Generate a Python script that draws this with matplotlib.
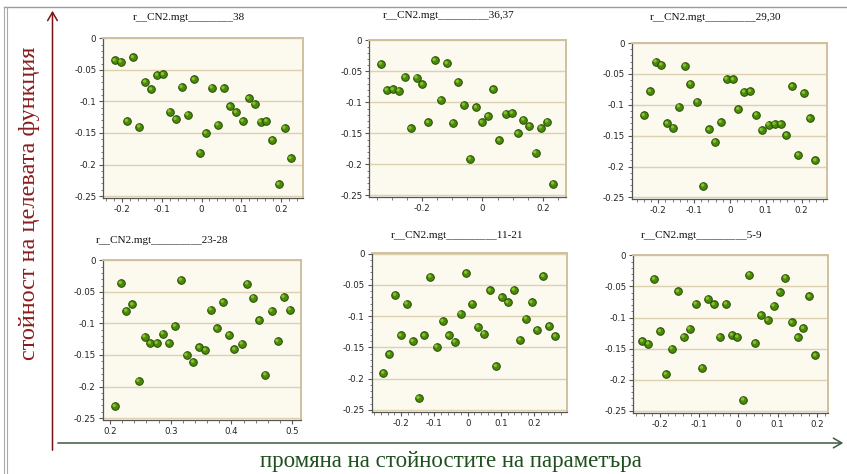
import matplotlib
matplotlib.use("Agg")
import matplotlib.pyplot as plt
from matplotlib.transforms import offset_copy
from matplotlib.ticker import MultipleLocator

plt.rcParams['axes.unicode_minus'] = False

# panel titles
titles = ['r__CN2.mgt________38', 'r__CN2.mgt_________36,37', 'r__CN2.mgt_________29,30',
          'r__CN2.mgt_________23-28', 'r__CN2.mgt_________11-21', 'r__CN2.mgt_________5-9']

# data
x_38 = [-0.219, -0.204, -0.173, -0.188, -0.157, -0.142, -0.127, -0.112, -0.097, -0.080,
        -0.065, -0.050, -0.035, -0.019, -0.004, 0.011, 0.026, 0.041, 0.056, 0.072,
        0.087, 0.104, 0.119, 0.134, 0.149, 0.164, 0.179, 0.195, 0.210, 0.225]
y_38 = [-0.035, -0.037, -0.030, -0.131, -0.140, -0.069, -0.081, -0.058, -0.057, -0.116,
        -0.128, -0.077, -0.121, -0.065, -0.181, -0.150, -0.078, -0.137, -0.079, -0.108,
        -0.117, -0.131, -0.095, -0.104, -0.132, -0.131, -0.161, -0.231, -0.142, -0.190]

x_3637 = [-0.336, -0.317, -0.297, -0.277, -0.257, -0.238, -0.218, -0.199, -0.180, -0.158,
          -0.138, -0.118, -0.098, -0.081, -0.061, -0.041, -0.021, -0.002, 0.018, 0.036,
          0.056, 0.078, 0.098, 0.117, 0.136, 0.156, 0.176, 0.194, 0.215, 0.235]
y_3637 = [-0.038, -0.080, -0.079, -0.081, -0.059, -0.142, -0.060, -0.071, -0.132, -0.032,
          -0.096, -0.037, -0.133, -0.067, -0.104, -0.191, -0.108, -0.132, -0.122, -0.079,
          -0.161, -0.118, -0.117, -0.150, -0.128, -0.138, -0.181, -0.141, -0.131, -0.231]

x_2930 = [-0.240, -0.223, -0.207, -0.191, -0.175, -0.158, -0.142, -0.125, -0.110, -0.091,
          -0.074, -0.058, -0.041, -0.025, -0.009, 0.009, 0.024, 0.040, 0.057, 0.074,
          0.089, 0.108, 0.125, 0.142, 0.158, 0.174, 0.191, 0.207, 0.223, 0.239]
y_2930 = [-0.117, -0.078, -0.030, -0.035, -0.130, -0.137, -0.103, -0.037, -0.066, -0.095,
          -0.231, -0.140, -0.160, -0.128, -0.058, -0.059, -0.107, -0.079, -0.078, -0.116,
          -0.141, -0.132, -0.131, -0.131, -0.149, -0.070, -0.181, -0.081, -0.122, -0.190]

x_2328 = [0.208, 0.218, 0.227, 0.237, 0.247, 0.257, 0.266, 0.277, 0.287, 0.297,
          0.307, 0.317, 0.326, 0.337, 0.347, 0.357, 0.366, 0.376, 0.386, 0.396,
          0.405, 0.417, 0.426, 0.436, 0.446, 0.456, 0.466, 0.476, 0.486, 0.496]
y_2328 = [-0.231, -0.036, -0.080, -0.070, -0.191, -0.121, -0.131, -0.131, -0.116, -0.131,
          -0.104, -0.031, -0.150, -0.161, -0.138, -0.142, -0.078, -0.108, -0.066, -0.118,
          -0.141, -0.132, -0.037, -0.059, -0.095, -0.181, -0.080, -0.128, -0.058, -0.078]

x_1121 = [-0.253, -0.235, -0.217, -0.201, -0.183, -0.165, -0.147, -0.130, -0.112, -0.093,
          -0.075, -0.057, -0.039, -0.021, -0.004, 0.014, 0.031, 0.049, 0.067, 0.085,
          0.102, 0.120, 0.139, 0.157, 0.175, 0.192, 0.209, 0.227, 0.245, 0.263]
y_1121 = [-0.191, -0.161, -0.066, -0.131, -0.080, -0.140, -0.231, -0.131, -0.037, -0.149,
          -0.108, -0.131, -0.141, -0.096, -0.031, -0.080, -0.117, -0.128, -0.059, -0.180,
          -0.070, -0.078, -0.058, -0.138, -0.104, -0.078, -0.122, -0.036, -0.116, -0.132]

x_59 = [-0.244, -0.229, -0.214, -0.199, -0.184, -0.169, -0.153, -0.139, -0.124, -0.108,
        -0.092, -0.077, -0.062, -0.047, -0.031, -0.016, -0.002, 0.013, 0.028, 0.043,
        0.058, 0.075, 0.090, 0.105, 0.120, 0.136, 0.151, 0.165, 0.181, 0.196]
y_59 = [-0.138, -0.142, -0.038, -0.122, -0.191, -0.150, -0.058, -0.131, -0.118, -0.078,
        -0.181, -0.070, -0.079, -0.131, -0.078, -0.128, -0.131, -0.232, -0.031, -0.141,
        -0.096, -0.104, -0.081, -0.059, -0.036, -0.108, -0.132, -0.117, -0.066, -0.161]

xs = [x_38, x_3637, x_2930, x_2328, x_1121, x_59]
ys = [y_38, y_3637, y_2930, y_2328, y_1121, y_59]

y_ticks = [0, -0.05, -0.1, -0.15, -0.2, -0.25]
y_labels = ['0', '-0.05', '-0.1', '-0.15', '-0.2', '-0.25']
x_ticks_a = [-0.2, -0.1, 0, 0.1, 0.2]
x_labels_a = ['-0.2', '-0.1', '0', '0.1', '0.2']
x_ticks_b = [-0.2, 0, 0.2]
x_labels_b = ['-0.2', '0', '0.2']
x_ticks_c = [0.2, 0.3, 0.4, 0.5]
x_labels_c = ['0.2', '0.3', '0.4', '0.5']

W, H = 847, 474
fig = plt.figure(figsize=(W / 100, H / 100), dpi=100)

# pixel boxes: left, top, right, bottom ; xlim ; title centre
boxes = [(103.3, 38, 303.3, 198), (369.3, 40, 566, 197.3), (631.7, 42.7, 827.3, 199.3),
         (102.7, 260, 300.7, 420), (371.7, 253.3, 567.3, 411.7), (633.3, 255, 828.3, 412.7)]
xlims = [(-0.248, 0.257), (-0.375, 0.277), (-0.274, 0.272),
         (0.188, 0.514), (-0.288, 0.299), (-0.267, 0.229)]
title_pos = [(189, 17), (449, 16), (716, 18), (162.5, 240), (456.7, 235), (702, 236)]
tick_sets = [(x_ticks_a, x_labels_a, 0.02), (x_ticks_b, x_labels_b, 0.05), (x_ticks_a, x_labels_a, 0.02),
             (x_ticks_c, x_labels_c, 0.02), (x_ticks_a, x_labels_a, 0.02), (x_ticks_a, x_labels_a, 0.02)]

for i in range(6):
    l, t, r, b = boxes[i]
    ax = fig.add_axes([l / W, 1 - b / H, (r - l) / W, (b - t) / H])
    ax.set_facecolor('#fcf9ee')
    ax.set_xlim(*xlims[i])
    ax.set_ylim(-0.253, 0.0005)
    ax.set_yticks(y_ticks, labels=y_labels)
    xt, xl, mn = tick_sets[i]
    ax.set_xticks(xt, labels=xl)
    ax.xaxis.set_minor_locator(MultipleLocator(mn))
    ax.yaxis.set_minor_locator(MultipleLocator(0.01))
    ax.tick_params(which='major', length=3, width=0.8, color='#555555', labelsize=6.2,
                   labelcolor='#222222', pad=2)
    ax.tick_params(which='minor', length=1.8, width=0.6, color='#666666')
    ax.grid(axis='y', color='#dcd2b2', linewidth=1.0)
    ax.set_axisbelow(True)
    for s in ['left', 'bottom']:
        ax.spines[s].set_color('#555555')
        ax.spines[s].set_linewidth(0.9)
    for s in ['top', 'right']:
        ax.spines[s].set_color('#cfc19e')
        ax.spines[s].set_linewidth(1.4)

    ax.scatter(xs[i], ys[i], s=30, facecolor='#4b8a0c', edgecolor='#224a00',
               linewidth=0.7, zorder=3)
    hl = offset_copy(ax.transData, fig=fig, x=-0.5, y=0.5, units='points')
    ax.scatter(xs[i], ys[i], s=6, facecolor='#86c424', edgecolor='none',
               transform=hl, zorder=4)

    tx, ty = title_pos[i]
    fig.text(tx / W, 1 - ty / H, titles[i], ha='center', va='center',
             family='Liberation Serif', fontsize=8, color='#111111')

# frame lines of the page
fig.add_artist(plt.Line2D([4 / W, 1], [1 - 6.7 / H, 1 - 6.7 / H], color='#9a9a9a', linewidth=1))
fig.add_artist(plt.Line2D([3.5 / W, 3.5 / W], [0, 1 - 6.7 / H], color='#aaaaaa', linewidth=0.8))
fig.add_artist(plt.Line2D([6.5 / W, 6.5 / W], [0, 1 - 6.7 / H], color='#aaaaaa', linewidth=0.8))

# axis arrows
fig.add_artist(matplotlib.patches.FancyArrowPatch((52.5 / W, 1 - 453 / H), (52.5 / W, 1 - 8 / H),
               transform=fig.transFigure, arrowstyle='->,head_length=6,head_width=3.5',
               color='#7a1414', linewidth=1.1))
fig.add_artist(matplotlib.patches.FancyArrowPatch((55 / W, 1 - 443 / H), (846 / W, 1 - 443 / H),
               transform=fig.transFigure, arrowstyle='->,head_length=6,head_width=3.5',
               color='#3e5a3e', linewidth=1.1))

fig.text(30 / W, 1 - 203 / H, 'стойност на целевата функция', rotation=90, ha='center', va='center',
         family='Liberation Serif', fontsize=17.5, color='#8b1d1d')
fig.text(451 / W, 1 - 461 / H, 'промяна на стойностите на параметъра', ha='center', va='center',
         family='Liberation Serif', fontsize=16.5, color='#1f4f1f')

fig.savefig('out.png', dpi=100)
